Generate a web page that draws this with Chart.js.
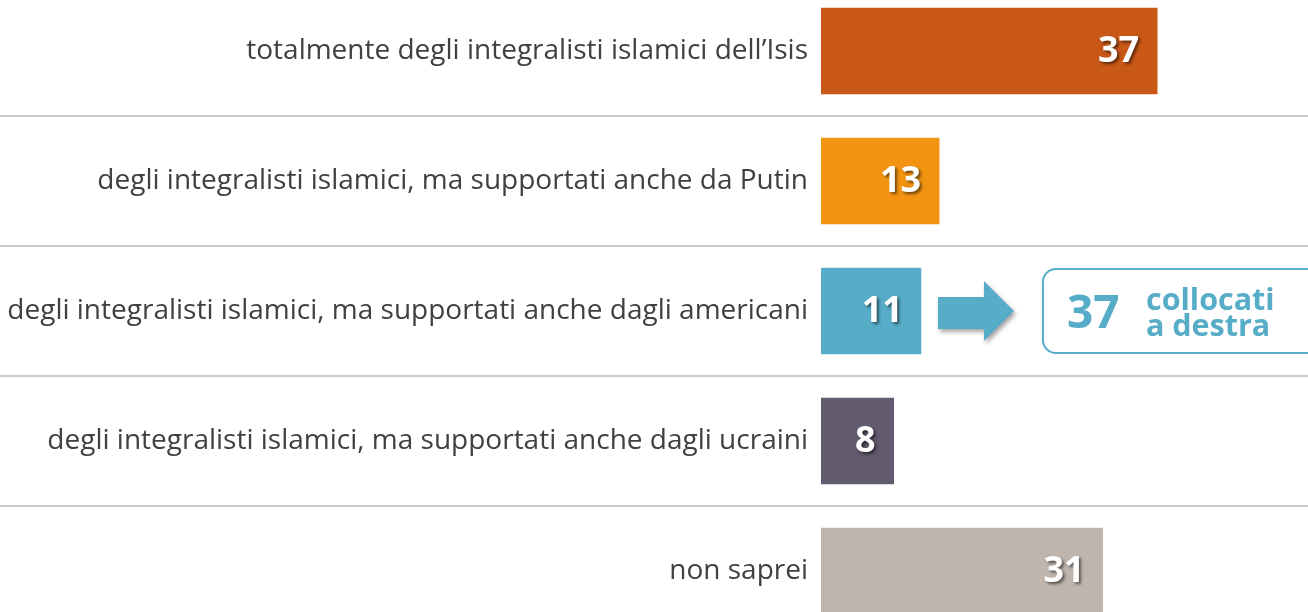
<!DOCTYPE html>
<html>
<head>
<meta charset="utf-8">
<script src="https://cdn.jsdelivr.net/npm/chart.js@4"></script>
<style>
  html, body { margin: 0; padding: 0; background: #fff; overflow: hidden; }
  #wrap { position: absolute; left: 0; top: -14px; width: 1308px; height: 650px; }
</style>
</head>
<body>
<div id="wrap"><canvas id="myChart"></canvas></div>
<script>
// categorie e valori (%)
const labels = [
  "totalmente degli integralisti islamici dell\u2019Isis",
  "degli integralisti islamici, ma supportati anche da Putin",
  "degli integralisti islamici, ma supportati anche dagli americani",
  "degli integralisti islamici, ma supportati anche dagli ucraini",
  "non saprei"
];
const values = [37, 13, 11, 8, 31];
const colors = ["#C95817", "#F39312", "#57ACC8", "#625A6E", "#BFB5AD"];
// riquadro a destra
const calloutValue = 37;
const calloutText = ["collocati", "a destra"];
const calloutIndex = 2;

const blue = "#57ACC8";

// linee separatrici a tutta larghezza
const separators = {
  id: "separators",
  beforeDatasetsDraw(chart) {
    const ctx = chart.ctx;
    const y = chart.scales.y;
    ctx.save();
    ctx.strokeStyle = "#CACACA";
    ctx.lineWidth = 2;
    for (let i = 0; i < labels.length - 1; i++) {
      const py = Math.round((y.getPixelForTick(i) + y.getPixelForTick(i + 1)) / 2);
      ctx.beginPath();
      ctx.moveTo(0, py);
      ctx.lineTo(chart.width, py);
      ctx.stroke();
    }
    ctx.restore();
  }
};

// numeri bianchi dentro le barre
const valueLabels = {
  id: "valueLabels",
  afterDatasetsDraw(chart) {
    const ctx = chart.ctx;
    const meta = chart.getDatasetMeta(0);
    ctx.save();
    ctx.font = "bold 36px 'Open Sans'";
    ctx.fillStyle = "#fff";
    ctx.textAlign = "right";
    ctx.textBaseline = "middle";
    ctx.shadowColor = "rgba(0,0,0,0.55)";
    ctx.shadowOffsetX = 2;
    ctx.shadowOffsetY = 2;
    ctx.shadowBlur = 3;
    meta.data.forEach((bar, i) => {
      ctx.fillText(values[i], bar.x - 18, bar.y + 1);
    });
    ctx.restore();
  }
};

// freccia + riquadro "collocati a destra"
const callout = {
  id: "callout",
  afterDraw(chart) {
    const ctx = chart.ctx;
    const bar = chart.getDatasetMeta(0).data[calloutIndex];
    const cy = bar.y;
    const x0 = bar.x + 17;
    ctx.save();
    // freccia
    ctx.shadowColor = "rgba(0,0,0,0.35)";
    ctx.shadowOffsetX = 2;
    ctx.shadowOffsetY = 3;
    ctx.shadowBlur = 4;
    ctx.fillStyle = blue;
    ctx.beginPath();
    ctx.moveTo(x0, cy - 14);
    ctx.lineTo(x0 + 46, cy - 14);
    ctx.lineTo(x0 + 46, cy - 30);
    ctx.lineTo(x0 + 76, cy);
    ctx.lineTo(x0 + 46, cy + 30);
    ctx.lineTo(x0 + 46, cy + 18);
    ctx.lineTo(x0, cy + 18);
    ctx.closePath();
    ctx.fill();
    ctx.restore();

    // riquadro arrotondato
    ctx.save();
    const bx = x0 + 105, by = cy - 42, bw = 300, bh = 84;
    ctx.strokeStyle = blue;
    ctx.lineWidth = 2;
    ctx.beginPath();
    ctx.roundRect(bx, by, bw, bh, 13);
    ctx.stroke();
    ctx.fillStyle = blue;
    ctx.textBaseline = "alphabetic";
    ctx.textAlign = "left";
    ctx.font = "bold 46px 'Open Sans'";
    ctx.fillText(calloutValue, bx + 24, cy + 17);
    ctx.font = "bold 30.5px 'Open Sans'";
    ctx.fillText(calloutText[0], bx + 103, cy - 1);
    ctx.fillText(calloutText[1], bx + 103, cy + 25);
    ctx.restore();
  }
};

new Chart(document.getElementById("myChart"), {
  type: "bar",
  data: {
    labels: labels,
    datasets: [{
      data: values,
      backgroundColor: colors,
      borderWidth: 0,
      barThickness: 86
    }]
  },
  options: {
    indexAxis: "y",
    responsive: true,
    maintainAspectRatio: false,
    animation: false,
    layout: { padding: 0 },
    plugins: {
      legend: { display: false },
      tooltip: { enabled: false }
    },
    scales: {
      x: {
        display: false,
        min: 0,
        max: 53.6
      },
      y: {
        border: { display: false },
        grid: { display: false, drawTicks: false },
        afterFit(scale) {
          scale.width = 821;
          scale.paddingTop = 0;
          scale.paddingBottom = 0;
        },
        ticks: {
          padding: 13,
          color: "#404040",
          font: { family: "'Open Sans'", size: 28 }
        }
      }
    }
  },
  plugins: [separators, valueLabels, callout]
});
</script>
</body>
</html>
